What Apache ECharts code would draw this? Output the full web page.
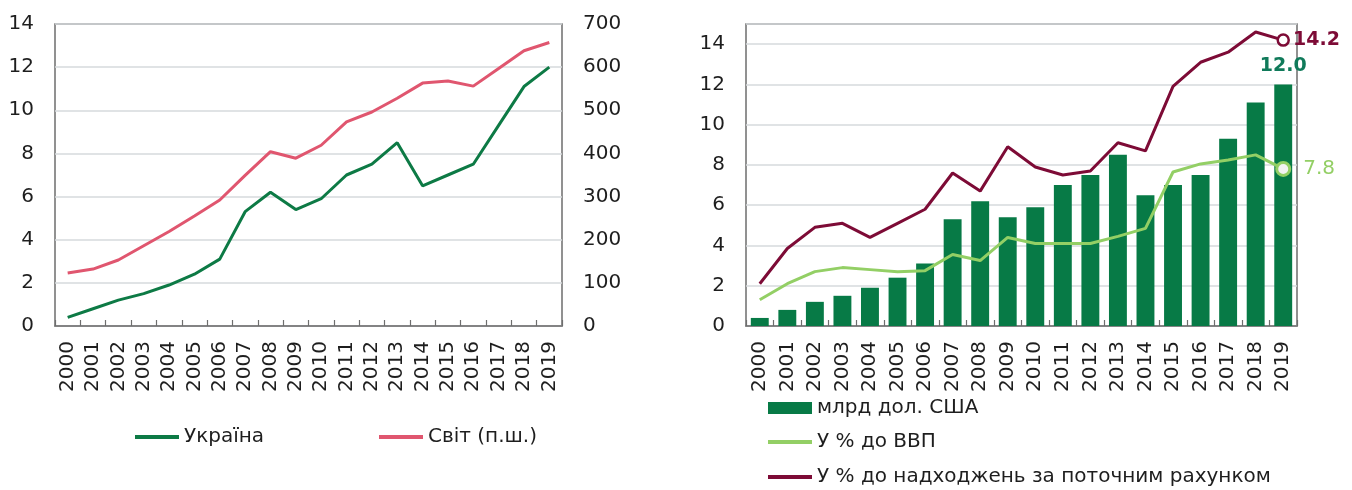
<!DOCTYPE html>
<html><head><meta charset="utf-8">
<script src="https://cdn.jsdelivr.net/npm/echarts@6/dist/echarts.min.js"></script>
<style>html,body{margin:0;padding:0;background:#fff}#c{width:1352px;height:490px}</style>
</head><body><div id="c"></div>
<script>
// ---- data ----
const years = ['2000','2001','2002','2003','2004','2005','2006','2007','2008','2009',
               '2010','2011','2012','2013','2014','2015','2016','2017','2018','2019'];
// Ukraine: billion USD (left chart left axis, right chart bars)
const ukraineBn = [0.4,0.8,1.2,1.5,1.9,2.4,3.1,5.3,6.2,5.4,5.9,7.0,7.5,8.5,6.5,7.0,7.5,9.3,11.1,12.0];
// World (right axis of left chart)
const worldVal = [123,132,153,186,219,255,292,349,404,389,419,473,496,528,563,568,556,597,638,657];
// % of GDP
const pctGDP = [1.3,2.1,2.7,2.9,2.8,2.7,2.75,3.55,3.25,4.4,4.1,4.1,4.1,4.45,4.85,7.65,8.05,8.25,8.5,7.8];
// % of current account receipts
const pctCA = [2.1,3.85,4.9,5.1,4.4,5.1,5.8,7.6,6.7,8.9,7.9,7.5,7.7,9.1,8.7,11.9,13.1,13.6,14.6,14.2];

const leftTicks = {min:0, max:14, interval:2};
const rightTicks = {min:0, max:700, interval:100};
const barTicks = {min:0, max:15, interval:2};

// ---- style ----
const FONT = 'DejaVu Sans';
const TXT = '#1e1e1e';
const C_UA = '#0d7a45';
const C_WORLD = '#e0566f';
const C_BAR = '#077a46';
const C_GDP = '#93cf65';
const C_CA = '#7d0b36';
const BOX = '#6e6e6e';
const GRIDC = '#d6dadd';

function xAxis(gi){
  return {
    type:'category', gridIndex:gi, data:years, boundaryGap:true,
    axisLine:{show:true, lineStyle:{color:BOX, width:1.5}},
    axisTick:{show:true, inside:true, length:6, lineStyle:{color:BOX, width:1.2}},
    axisLabel:{rotate:90, margin:15, fontFamily:FONT, fontSize:20, color:TXT, interval:0}
  };
}
function yAxis(gi, t, pos, split, extra){
  return Object.assign({
    type:'value', gridIndex:gi, position:pos, min:t.min, max:t.max, interval:t.interval,
    axisLine:{show:false}, axisTick:{show:false},
    axisLabel:{margin:21, fontFamily:FONT, fontSize:20, color:TXT},
    splitLine:{show:split, lineStyle:{color:GRIDC, width:1.5}}
  }, extra||{});
}

const lastIdx = years.length - 1;
const caData = pctCA.map((v,i)=> i===lastIdx ? {
  value:v, symbol:'circle', symbolSize:11,
  itemStyle:{color:'#ffffff', borderColor:C_CA, borderWidth:2.5},
  label:{show:true, position:'right', distance:3, color:C_CA, fontFamily:FONT, fontSize:19, fontWeight:'bold',
         formatter:p=>p.value.toFixed(1)}
} : v);
const gdpData = pctGDP.map((v,i)=> i===lastIdx ? {
  value:v, symbol:'circle', symbolSize:13,
  itemStyle:{color:'#f2f2f2', borderColor:C_GDP, borderWidth:3},
  label:{show:true, position:'right', distance:12, color:C_GDP, fontFamily:FONT, fontSize:20,
         formatter:p=>p.value.toFixed(1)}
} : v);
const barData = ukraineBn.map((v,i)=> i===lastIdx ? {
  value:v,
  label:{show:true, position:'top', distance:9, color:'#107a5a', fontFamily:FONT, fontSize:19, fontWeight:'bold',
         formatter:p=>p.value.toFixed(1)}
} : v);

const legText = {fontFamily:FONT, fontSize:20, color:TXT};
function legend(name, left, top, h){
  return {data:[name], left:left, top:top, orient:'horizontal', icon:'rect',
          itemWidth:44, itemHeight:h, textStyle:legText, selectedMode:false, padding:0};
}

const option = {
  backgroundColor:'#ffffff',
  animation:false,
  grid:[
    {left:55, right:790, top:24, bottom:164, show:true, borderColor:BOX, borderWidth:1.5, backgroundColor:'#fff'},
    {left:746, right:55, top:24, bottom:164, show:true, borderColor:BOX, borderWidth:1.5, backgroundColor:'#fff'}
  ],
  xAxis:[xAxis(0), xAxis(1)],
  yAxis:[
    yAxis(0, leftTicks, 'left', true),
    yAxis(0, rightTicks, 'right', false),
    yAxis(1, barTicks, 'left', true, {axisLabel:{margin:21, fontFamily:FONT, fontSize:20, color:TXT, showMaxLabel:false}})
  ],
  legend:[
    legend('Україна', 135, 427, 4),
    legend('Світ (п.ш.)', 379, 427, 4),
    legend('млрд дол. США', 768, 398, 12),
    legend('У % до ВВП', 768, 432, 4),
    legend('У % до надходжень за поточним рахунком', 768, 467, 4)
  ],
  series:[
    {name:'Україна', type:'line', xAxisIndex:0, yAxisIndex:0, data:ukraineBn, symbol:'none',
     lineStyle:{color:C_UA, width:3}, itemStyle:{color:C_UA}, z:3},
    {name:'Світ (п.ш.)', type:'line', xAxisIndex:0, yAxisIndex:1, data:worldVal, symbol:'none',
     lineStyle:{color:C_WORLD, width:3}, itemStyle:{color:C_WORLD}, z:3},
    {name:'млрд дол. США', type:'bar', xAxisIndex:1, yAxisIndex:2, data:barData, barWidth:'65%',
     itemStyle:{color:C_BAR}, z:2},
    {name:'У % до ВВП', type:'line', xAxisIndex:1, yAxisIndex:2, data:gdpData, symbol:'none',
     lineStyle:{color:C_GDP, width:3}, itemStyle:{color:C_GDP}, z:4},
    {name:'У % до надходжень за поточним рахунком', type:'line', xAxisIndex:1, yAxisIndex:2, data:caData, symbol:'none',
     lineStyle:{color:C_CA, width:3}, itemStyle:{color:C_CA}, z:5}
  ]
};
const chart = echarts.init(document.getElementById('c'), null, {renderer:'canvas'});
chart.setOption(option);
</script>
</body></html>
